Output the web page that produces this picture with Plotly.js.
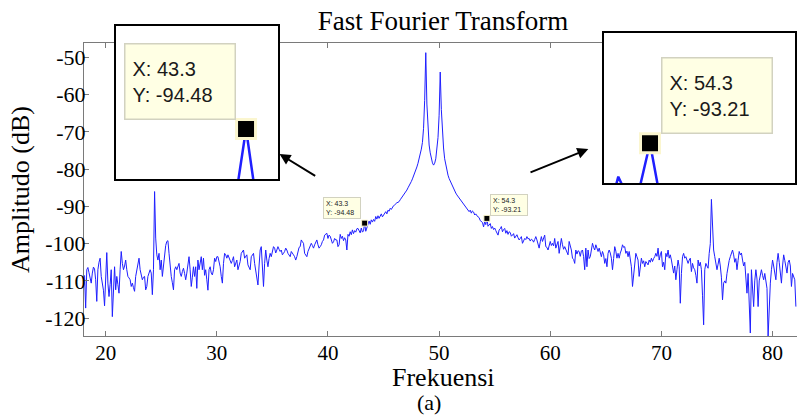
<!DOCTYPE html>
<html>
<head>
<meta charset="utf-8">
<script src="https://cdn.plot.ly/plotly-3.0.1.min.js"></script>
<style>
  html, body { margin: 0; padding: 0; background: #ffffff; }
  #chart { width: 797px; height: 417px; }
</style>
</head>
<body>
<div id="chart"></div>
<script>
// ---- Data ----
// FFT bins: 18.1 Hz ... 82.1 Hz, 0.1 Hz apart
const freqStart = 18.1;
const freqStep = 0.1;
// amplitude in dB, one row per 1 Hz (x.1 ... x+1.0)
const amplitude = [
  -108.5, -117.3, -107.0, -106.4, -107.8, -109.7, -110.6, -107.9, -106.3, -106.8,
  -109.7, -115.5, -107.0, -105.0, -103.9, -108.8, -110.5, -112.5, -116.7, -109.7,
  -102.4, -110.6, -114.2, -111.0, -107.0, -119.6, -109.7, -106.2, -112.4, -108.8,
  -111.0, -113.3, -107.0, -102.1, -105.3, -107.0, -106.0, -104.4, -107.0, -108.8,
  -109.2, -109.7, -111.5, -110.6, -111.8, -112.8, -108.8, -107.0, -106.2, -103.9,
  -107.0, -108.4, -109.7, -109.0, -108.8, -112.4, -111.5, -108.8, -107.5, -107.0,
  -107.9, -113.7, -107.0, -86.0, -98.5, -103.0, -104.4, -102.6, -107.0, -104.4,
  -108.8, -106.0, -102.0, -100.5, -99.4, -99.2, -102.6, -107.0, -108.8, -110.5,
  -112.4, -107.0, -106.2, -107.0, -106.2, -105.3, -107.9, -108.8, -107.5, -106.6,
  -108.0, -109.7, -107.9, -106.2, -103.5, -107.0, -111.5, -109.0, -106.2, -108.8,
  -106.2, -112.0, -104.4, -107.0, -105.3, -103.5, -107.0, -103.9, -108.5, -107.0,
  -109.7, -112.5, -107.0, -106.2, -107.9, -108.4, -107.0, -103.9, -104.8, -103.5,
  -103.5, -105.0, -106.2, -108.8, -110.6, -105.3, -102.6, -103.0, -103.9, -103.0,
  -104.0, -104.4, -105.3, -104.5, -103.5, -106.2, -105.5, -104.4, -107.0, -106.0,
  -104.8, -102.6, -102.0, -101.7, -103.9, -103.4, -103.0, -105.7, -106.3, -107.0,
  -103.5, -103.0, -102.6, -105.3, -107.5, -109.7, -111.1, -106.0, -101.7, -100.8,
  -105.3, -111.5, -105.3, -101.7, -104.4, -106.2, -104.0, -102.6, -103.5, -102.0,
  -100.8, -101.2, -102.5, -101.7, -100.8, -101.5, -102.1, -101.7, -103.0, -102.6,
  -102.1, -101.2, -101.7, -102.6, -103.0, -103.5, -102.1, -102.8, -103.0, -103.5,
  -104.4, -103.5, -102.1, -101.0, -100.8, -99.0, -99.5, -99.9, -102.6, -103.0,
  -103.5, -102.1, -101.2, -100.8, -99.9, -100.5, -101.2, -100.3, -99.5, -99.0,
  -100.3, -101.2, -100.8, -100.3, -99.4, -99.0, -97.7, -97.5, -97.2, -98.6,
  -97.7, -98.0, -99.4, -99.9, -99.5, -98.6, -99.0, -99.0, -100.8, -100.3,
  -97.5, -98.6, -98.0, -99.2, -98.4, -99.0, -101.7, -97.5, -98.0, -96.8,
  -97.6, -96.3, -97.3, -96.5, -96.9, -96.0, -95.9, -96.7, -97.1, -95.8,
  -96.9, -96.56, -94.48, -96.67, -95.9, -94.6, -93.9, -94.8, -93.6, -94.2,
  -93.5, -94.0, -92.7, -93.4, -92.5, -93.2, -92.6, -92.0, -92.8, -92.3,
  -91.8, -91.4, -92.0, -91.0, -91.3, -90.5, -90.8, -90.2, -89.8, -89.6,
  -89.2, -89.0, -88.9, -88.7, -88.2, -87.8, -87.4, -87.0, -86.5, -86.2,
  -85.6, -85.0, -84.5, -83.9, -83.3, -82.6, -81.9, -81.1, -80.3, -79.4,
  -78.4, -77.3, -76.0, -74.6, -72.8, -69.0, -61.5, -48.7, -62.5, -69.5,
  -73.5, -75.6, -77.1, -78.3, -78.9, -78.4, -77.2, -74.8, -71.5, -65.5,
  -53.9, -64.0, -70.5, -74.3, -77.2, -79.1, -80.5, -81.6, -82.5, -83.2,
  -84.0, -84.7, -85.2, -85.8, -86.4, -86.9, -87.3, -87.7, -88.0, -88.4,
  -88.8, -89.3, -89.6, -90.1, -90.5, -90.9, -91.4, -91.0, -91.8, -91.2,
  -91.5, -92.3, -92.0, -92.5, -92.7, -93.0, -93.8, -94.1, -94.3, -95.5,
  -94.03, -94.88, -93.21, -95.32, -95.0, -94.6, -95.9, -95.4, -96.2, -95.8,
  -96.5, -97.0, -97.7, -96.3, -96.0, -95.4, -96.8, -96.2, -95.9, -97.2,
  -96.5, -97.5, -96.8, -97.0, -98.0, -97.7, -97.3, -98.5, -98.1, -97.6,
  -98.4, -99.0, -98.6, -98.1, -99.9, -99.2, -98.6, -98.9, -98.1, -98.7,
  -98.6, -99.3, -98.8, -99.0, -99.6, -98.9, -98.1, -99.0, -100.3, -101.2,
  -99.5, -98.1, -99.4, -98.5, -97.7, -100.8, -101.0, -101.7, -100.2, -99.4,
  -100.5, -99.9, -100.6, -98.6, -101.2, -100.0, -99.4, -102.6, -101.0, -98.6,
  -100.3, -101.5, -100.8, -101.7, -102.2, -103.0, -99.4, -100.5, -101.7, -103.9,
  -104.2, -105.3, -101.7, -102.8, -101.9, -102.1, -103.4, -102.0, -101.7, -103.5,
  -107.0, -101.2, -106.2, -101.7, -104.0, -103.5, -102.0, -99.9, -101.0, -101.7,
  -100.3, -101.0, -102.1, -101.2, -102.4, -103.5, -102.1, -103.0, -105.3, -104.0,
  -106.2, -102.6, -101.7, -102.5, -103.9, -107.0, -104.0, -100.8, -102.0, -103.9,
  -102.6, -103.9, -102.5, -101.7, -100.3, -101.0, -100.8, -102.6, -102.0, -103.5,
  -102.1, -104.0, -106.2, -111.5, -108.0, -105.3, -102.6, -103.5, -104.4, -108.8,
  -106.0, -103.9, -105.3, -104.6, -106.2, -104.8, -105.2, -105.7, -104.4, -105.0,
  -103.9, -104.8, -104.0, -103.5, -102.6, -103.4, -101.2, -104.4, -103.0, -102.1,
  -106.2, -105.0, -107.0, -102.6, -103.5, -101.7, -103.9, -103.0, -104.4, -107.0,
  -107.9, -106.0, -109.7, -107.0, -104.4, -106.2, -116.0, -108.0, -103.5, -102.6,
  -103.9, -103.5, -104.8, -105.3, -104.4, -103.9, -107.5, -105.3, -106.5, -107.0,
  -108.5, -110.6, -104.4, -106.0, -105.0, -107.0, -114.0, -121.8, -107.0, -105.3,
  -106.0, -106.6, -102.6, -100.0, -88.1, -95.4, -101.7, -103.5, -105.0, -107.0,
  -105.5, -103.9, -106.0, -109.0, -115.1, -110.6, -110.0, -110.6, -108.0, -106.0,
  -104.5, -103.5, -102.5, -101.7, -103.0, -105.0, -104.0, -107.0, -104.5, -102.1,
  -103.0, -102.5, -104.4, -106.0, -105.0, -110.0, -113.3, -108.0, -115.0, -124.0,
  -107.0, -112.0, -116.9, -110.0, -107.0, -109.5, -116.9, -110.0, -108.0, -107.0,
  -108.5, -109.7, -108.0, -110.0, -112.0, -124.9, -115.0, -110.6, -107.0, -104.4,
  -106.0, -108.0, -109.7, -105.0, -102.6, -105.0, -108.0, -110.6, -106.0, -103.0,
  -104.5, -106.0, -107.9, -105.0, -104.4, -106.0, -111.5, -108.0, -109.0, -109.7,
  -116.9
];
const frequency = amplitude.map((_, i) => +(freqStart + i * freqStep).toFixed(1));

// data tips
const tipFreq = [43.3, 54.3];
const tipAmp = [-94.48, -93.21];
const tipLabels = ['X: 43.3<br>Y: -94.48', 'X: 54.3<br>Y: -93.21'];

// tick labels
const xTicks = [20, 30, 40, 50, 60, 70, 80];
const yTicks = [-120, -110, -100, -90, -80, -70, -60, -50];

// ---- Styles ----
const SERIF = 'Liberation Serif, Times New Roman, serif';
const SANS = 'Liberation Sans, Arial, sans-serif';
const BLUE = '#1f1fff';
const AXIS_GRAY = '#7a7a7a';
const TIP_BG = '#ffffe4';
const TIP_BORDER = '#d2d2c0';
const MARK_EDGE = '#fbf6cf';

// pixel helpers for paper coordinates (plot area: x 84..797, paper y 20..336)
const PX = v => (v - 84) / 713;
const PY = v => (336 - v) / 316;

const traces = [
  { x: frequency, y: amplitude, xaxis: 'x', yaxis: 'y', type: 'scatter', mode: 'lines',
    line: { color: BLUE, width: 1 }, hoverinfo: 'skip' },
  { x: tipFreq, y: tipAmp, xaxis: 'x', yaxis: 'y', type: 'scatter', mode: 'markers',
    marker: { symbol: 'square', size: 6, color: '#000', line: { color: MARK_EDGE, width: 1 } } },
  // left magnified inset
  { x: frequency, y: amplitude, xaxis: 'x2', yaxis: 'y2', type: 'scatter', mode: 'lines',
    line: { color: BLUE, width: 2.5 } },
  { x: [tipFreq[0]], y: [tipAmp[0]], xaxis: 'x2', yaxis: 'y2', type: 'scatter', mode: 'markers',
    marker: { symbol: 'square', size: 19, color: '#000', line: { color: MARK_EDGE, width: 3 } } },
  // right magnified inset
  { x: frequency, y: amplitude, xaxis: 'x3', yaxis: 'y3', type: 'scatter', mode: 'lines',
    line: { color: BLUE, width: 2.5 } },
  { x: [tipFreq[1]], y: [tipAmp[1]], xaxis: 'x3', yaxis: 'y3', type: 'scatter', mode: 'markers',
    marker: { symbol: 'square', size: 19, color: '#000', line: { color: MARK_EDGE, width: 3 } } }
];

const inset1 = { x0: PX(115), x1: PX(279), y0: PY(180), y1: PY(25) };
const inset2 = { x0: PX(603), x1: PX(796), y0: PY(184), y1: PY(32) };

const hiddenAxis = { visible: false, showgrid: false, zeroline: false, fixedrange: true };

const layout = {
  width: 797, height: 417,
  margin: { l: 84, r: 0, t: 20, b: 81, pad: 0 },
  paper_bgcolor: '#ffffff', plot_bgcolor: '#ffffff',
  showlegend: false,
  title: {
    text: 'Fast Fourier Transform',
    font: { family: SERIF, size: 27, color: '#000' },
    xref: 'paper', x: PX(443), xanchor: 'center',
    yref: 'container', y: 1 - 21 / 417, yanchor: 'middle'
  },
  xaxis: {
    domain: [0, 1], range: [18.05, 82.2], anchor: 'y',
    tickmode: 'array', tickvals: xTicks, ticktext: xTicks.map(String),
    ticks: 'inside', ticklen: 5, tickwidth: 1, tickcolor: AXIS_GRAY,
    showline: true, linecolor: AXIS_GRAY, linewidth: 1, mirror: 'ticks',
    showgrid: false, zeroline: false, ticklabelstandoff: -2,
    tickfont: { family: SERIF, size: 21, color: '#000' }
  },
  yaxis: {
    domain: [0, PY(43)], range: [-124.8, -46.1], anchor: 'x',
    tickmode: 'array', tickvals: yTicks, ticktext: yTicks.map(String),
    ticks: 'inside', ticklen: 5, tickwidth: 1, tickcolor: AXIS_GRAY,
    showline: true, linecolor: AXIS_GRAY, linewidth: 1, mirror: false,
    showgrid: false, zeroline: false, ticklabelstandoff: -7,
    tickfont: { family: SERIF, size: 22, color: '#000' },
    title: { text: 'Amplitudo (dB)', font: { family: SERIF, size: 26, color: '#000' }, standoff: 8 }
  },
  xaxis2: Object.assign({}, hiddenAxis, { domain: [inset1.x0, inset1.x1], range: [42.481, 43.506], anchor: 'y2' }),
  yaxis2: Object.assign({}, hiddenAxis, { domain: [inset1.y0, inset1.y1], range: [-95.48, -92.44], anchor: 'x2' }),
  xaxis3: Object.assign({}, hiddenAxis, { domain: [inset2.x0, inset2.x1], range: [54.0035, 55.221], anchor: 'y3' }),
  yaxis3: Object.assign({}, hiddenAxis, { domain: [inset2.y0, inset2.y1], range: [-94.21, -90.475], anchor: 'x3' }),
  shapes: [
    { type: 'rect', xref: 'paper', yref: 'paper', layer: 'above',
      x0: inset1.x0, x1: inset1.x1, y0: inset1.y0, y1: inset1.y1,
      line: { color: '#000', width: 2 }, fillcolor: 'rgba(0,0,0,0)' },
    { type: 'rect', xref: 'paper', yref: 'paper', layer: 'above',
      x0: inset2.x0, x1: inset2.x1, y0: inset2.y0, y1: inset2.y1,
      line: { color: '#000', width: 2 }, fillcolor: 'rgba(0,0,0,0)' }
  ],
  annotations: [
    // x-axis title (placed as in the reference, closer to the tick labels)
    { xref: 'paper', yref: 'paper', x: PX(443.5), y: PY(377), text: 'Frekuensi', showarrow: false,
      xanchor: 'center', yanchor: 'middle', borderpad: 0, font: { family: SERIF, size: 26, color: '#000' } },
    // small data tips in the main plot
    { xref: 'x', yref: 'y', x: tipFreq[0], y: tipAmp[0], text: tipLabels[0], showarrow: false,
      xanchor: 'right', yanchor: 'bottom', xshift: -4, yshift: 4, align: 'left',
      width: 32, borderpad: 2, borderwidth: 1, bordercolor: TIP_BORDER, bgcolor: TIP_BG,
      font: { family: SANS, size: 7, color: '#222' } },
    { xref: 'x', yref: 'y', x: tipFreq[1], y: tipAmp[1], text: tipLabels[1], showarrow: false,
      xanchor: 'left', yanchor: 'bottom', xshift: 3, yshift: 2, align: 'left',
      width: 32, borderpad: 2, borderwidth: 1, bordercolor: TIP_BORDER, bgcolor: TIP_BG,
      font: { family: SANS, size: 7, color: '#222' } },
    // magnified data tips
    { xref: 'paper', yref: 'paper', x: PX(124), y: PY(43), text: tipLabels[0], showarrow: false,
      xanchor: 'left', yanchor: 'top', align: 'left', valign: 'middle',
      width: 95, height: 60, borderpad: 7, borderwidth: 1.5, bordercolor: TIP_BORDER, bgcolor: TIP_BG,
      font: { family: SANS, size: 20, color: '#1a1a1a' } },
    { xref: 'paper', yref: 'paper', x: PX(661), y: PY(57), text: tipLabels[1], showarrow: false,
      xanchor: 'left', yanchor: 'top', align: 'left', valign: 'middle',
      width: 95, height: 60, borderpad: 7, borderwidth: 1.5, bordercolor: TIP_BORDER, bgcolor: TIP_BG,
      font: { family: SANS, size: 20, color: '#1a1a1a' } },
    // arrows pointing to the insets
    { xref: 'paper', yref: 'paper', axref: 'paper', ayref: 'paper',
      x: PX(279.5), y: PY(154), ax: PX(316.7), ay: PY(176.7), text: '',
      showarrow: true, arrowhead: 2, arrowsize: 1.1, arrowwidth: 2, arrowcolor: '#000', standoff: 0 },
    { xref: 'paper', yref: 'paper', axref: 'paper', ayref: 'paper',
      x: PX(588.3), y: PY(149), ax: PX(529), ay: PY(173), text: '',
      showarrow: true, arrowhead: 2, arrowsize: 1.1, arrowwidth: 2, arrowcolor: '#000', standoff: 0 },
    // panel label
    { xref: 'paper', yref: 'paper', x: PX(429), y: PY(402), text: '(a)', showarrow: false,
      xanchor: 'center', yanchor: 'middle', borderpad: 0, font: { family: SERIF, size: 22, color: '#000' } }
  ]
};

Plotly.newPlot('chart', traces, layout, { staticPlot: true, displayModeBar: false });
</script>
</body>
</html>
